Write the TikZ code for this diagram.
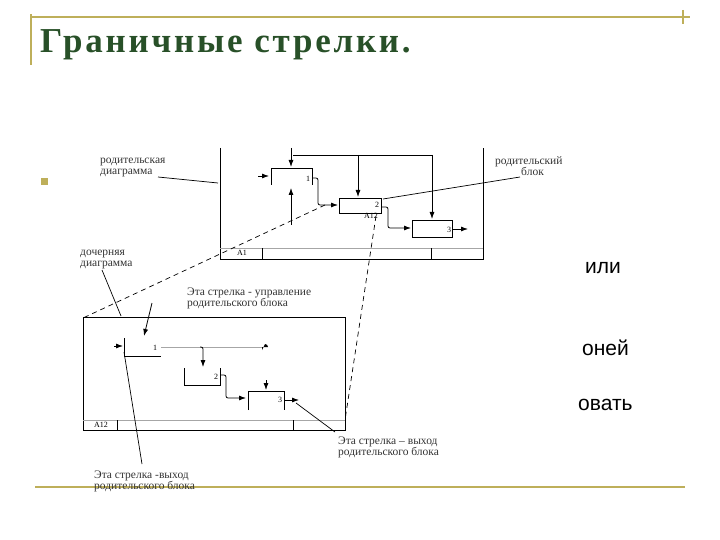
\documentclass[tikz,border=0pt]{standalone}
\usepackage{fontspec}
\setmainfont{Liberation Serif}
\newfontfamily\sansf{Liberation Sans}
\usetikzlibrary{arrows.meta}
\definecolor{olive}{RGB}{190,175,90}
\definecolor{titlegreen}{RGB}{40,80,40}
\tikzset{
 lbl/.style={font=\fontsize{11.5}{11}\selectfont, align=left, inner sep=0pt, text=black!80},
 num/.style={font=\fontsize{8}{8}\selectfont, inner sep=0pt},
 ln/.style={black, line width=0.7pt},
 ar/.style={black, line width=0.8pt, -{Latex[length=7pt,width=5pt]}},
 ds/.style={black, line width=0.7pt, dash pattern=on 5pt off 4pt},
 frame/.style={black, line width=1pt},
 deco/.style={olive, line width=1.6pt},
 rest/.style={font=\sansf\fontsize{21}{21}\selectfont, inner sep=0pt, anchor=west}
}
\begin{document}
\begin{tikzpicture}[x=1pt,y=-1pt]
\useasboundingbox (0,0) rectangle (720,540);
% slide decoration
\draw[deco] (30,17) -- (690,17);
\draw[deco] (31,14) -- (31,65);
\draw[deco] (683,10) -- (683,24);
\draw[deco] (35,487) -- (685,487);
\node[anchor=west, inner sep=0pt, text=titlegreen, font=\bfseries\addfontfeature{LetterSpace=8}\fontsize{35}{35}\selectfont] (title) at (40,45) {Граничные стрелки.};
\fill[olive] (41,178) rectangle (48,185);
\node[rest] (t1) at (585,268) {или};
\node[rest] (t2) at (582,348) {оней};
\node[rest] (t3) at (578,405) {овать};
% parent diagram
\draw[frame] (220,148) -- (220,259) -- (483,259) -- (483,148);
\draw[gray!70, line width=0.6pt] (220,248) -- (483,248);
\draw[ln] (262,248) -- (262,259); \draw[ln] (431,248) -- (431,259);
\node[num] (pA1) at (242,253) {A1};
\draw[ln] (271,185) -- (271,168) -- (312,168) -- (312,185);
\node[num] (p1) at (308,179) {1};
\draw[ar] (258,176) -- (269,176);
\draw[ar] (291,148) -- (291,167);
\draw[ar] (291,225) -- (291,188);
\draw[ln] (293,155) -- (432,155);
\draw[ar] (358,155) -- (358,197);
\draw[ar] (432,155) -- (432,219);
\draw[ln] (339,198) rectangle (381,213);
\node[num] (p2) at (377,205) {2};
\node[num] (pA12) at (371,216) {A12};
\draw[ar, rounded corners=2pt] (312,178) -- (318,178) -- (318,205) -- (338,205);
\draw[ln] (412,220) rectangle (452,237);
\node[num] (p3) at (449,230) {3};
\draw[ar, rounded corners=2pt] (381,207) -- (388,207) -- (388,228) -- (411,228);
\draw[ar] (452,229) -- (468,229);
\node[lbl, anchor=north west] (lpd) at (100,158) {родительская\\диаграмма};
\draw[ln] (158,177) -- (218,183);
\node[lbl, anchor=north west] (lpb) at (495,156) {родительский\\\hspace*{26pt}блок};
\draw[ln] (520,177) -- (383,199);
\node[lbl, anchor=north west] (ldd) at (80,250) {дочерняя\\диаграмма};
\draw[ln] (102,270) -- (121,316);
\draw[ds] (325,205) -- (83,318);
\draw[ds] (376,216) -- (345,420);
% child diagram
\draw[frame] (83,317) rectangle (345,430);
\draw[gray!70, line width=0.6pt] (83,420) -- (345,420);
\draw[ln] (117,420) -- (117,430); \draw[ln] (293,420) -- (293,430);
\node[num] (cA12) at (101,425) {A12};
\draw[ln] (124,338) -- (124,356) -- (161,356);
\node[num] (c1) at (155,348) {1};
\draw[gray!70, line width=0.6pt] (161,347) -- (262,347);
\fill (262,347) -- (268,347) arc (0:-90:3) -- (262,350) -- cycle;
\draw[ar] (114,346) -- (123,346);
\draw[ar] (152,303) -- (144,336);
\node[lbl, anchor=north west] (lctl) at (187,288) {Эта стрелка - управление\\родительского блока};
\draw[ln] (184,368) -- (184,385) -- (220,385) -- (220,368);
\node[num] (c2) at (216,377) {2};
\draw[ar, rounded corners=2pt] (200,347) -- (203,347) -- (203,367);
\draw[ar, rounded corners=2pt] (220,375) -- (226,375) -- (226,398) -- (246,398);
\draw[ln] (248,410) -- (248,391) -- (284,391) -- (284,410);
\node[num] (c3) at (280,400) {3};
\draw[ar] (266,380) -- (266,390);
\draw[ar] (285,400) -- (299,400);
\draw[ln] (296,403) -- (335,432);
\node[lbl, anchor=north west] (lout1) at (338,437) {Эта стрелка -- выход\\родительского блока};
\draw[ln] (124,352) -- (142,464);
\node[lbl, anchor=north west] (lout2) at (94,471) {Эта стрелка -выход\\родительского блока};
\end{tikzpicture}
\end{document}
